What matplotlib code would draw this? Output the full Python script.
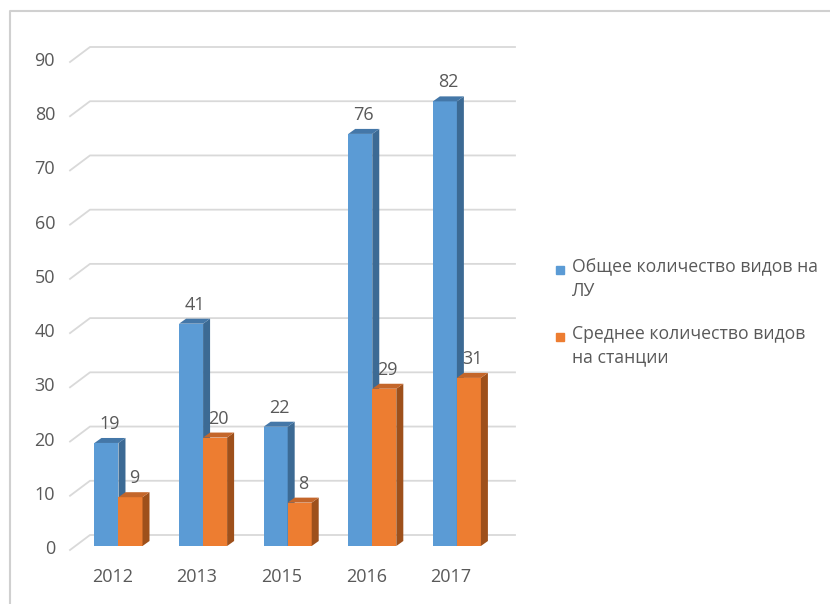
import matplotlib.pyplot as plt
import numpy as np
from matplotlib.patches import Polygon, Rectangle
from matplotlib.lines import Line2D

years = ['2012', '2013', '2015', '2016', '2017']
total_species = [19, 41, 22, 76, 82]
mean_species = [9, 20, 8, 29, 31]
series_names = ['Общее количество видов на\nЛУ', 'Среднее количество видов\nна станции']
yticks = list(range(0, 100, 10))

# front / side / top shades for each series
blue = ('#5B9BD5', '#3C6A94', '#4477A8')
orange = ('#ED7D31', '#9E501B', '#C4662A')
text_col = '#595959'
grid_col = '#D9D9D9'

plt.rcParams['font.family'] = ['Open Sans', 'DejaVu Sans']

W, H = 830, 604
fig = plt.figure(figsize=(W / 100, H / 100), dpi=100)

# plot area in pixels (from top-left)
left, right, top, bottom = 70, 515, 58, 546
ax = fig.add_axes([left / W, 1 - bottom / H, (right - left) / W, (bottom - top) / H])
ax.set_ylim(0, 90)
ax.set_xlim(-0.573, 4.687)
ax.axis('off')

depth = (7, 5)       # bar depth in pixels
wall = (20, 11)      # back wall offset in pixels
bw = 0.284


def to_px(x, y):
    return ax.transData.transform((x, y))


def to_data(px):
    return ax.transData.inverted().transform(px)


# back wall gridlines, left wall slants and value axis labels
x0, x1 = ax.get_xlim()
for v in yticks:
    p = to_px(x0, v)
    a = (p[0], p[1] - 4)
    b = (p[0] + wall[0], p[1] + wall[1])
    c = (to_px(x1, v)[0], p[1] + wall[1])
    pts = to_data(np.array([a, b, c]))
    ax.add_line(Line2D(pts[:, 0], pts[:, 1], color=grid_col, lw=1.3,
                       zorder=1, clip_on=False))
    lx, ly = to_data(p + np.array([-15, -3]))
    ax.text(lx, ly, str(v), ha='right', va='center', fontsize=13, color=text_col)


def bar3d(xc, h, shades):
    xl, xr = xc - bw / 2, xc + bw / 2
    ax.bar(xc, h, width=bw, color=shades[0], zorder=3)
    d = np.array(depth)
    br, tr, tl = to_px(xr, 0), to_px(xr, h), to_px(xl, h)
    side = to_data(np.array([br, tr, tr + d, br + d]))
    topf = to_data(np.array([tl, tr, tr + d, tl + d]))
    ax.add_patch(Polygon(side, closed=True, color=shades[1], zorder=3, lw=0, clip_on=False))
    ax.add_patch(Polygon(topf, closed=True, color=shades[2], zorder=3, lw=0, clip_on=False))
    lx, ly = to_data(tl + (tr - tl) / 2 + np.array([depth[0] / 2, depth[1] + 5]))
    ax.text(lx, ly, str(h), ha='center', va='bottom', fontsize=13,
            color=text_col, zorder=5)


for i, yr in enumerate(years):
    bar3d(i - bw / 2, total_species[i], blue)
    bar3d(i + bw / 2, mean_species[i], orange)
    lx, ly = to_data(to_px(i, 0) + np.array([-6, -22]))
    ax.text(lx, ly, yr, ha='center', va='top', fontsize=13, color=text_col)

# legend
leg_rows = [270, 337]
for name, col, yp in zip(series_names, [blue[0], orange[0]], leg_rows):
    fig.patches.append(Rectangle((556 / W, 1 - (yp + 4) / H), 8 / W, 8 / H,
                                 transform=fig.transFigure, color=col))
    fig.text(572 / W, 1 - (yp - 12) / H, name, ha='left', va='top',
             fontsize=12.7, color=text_col, linespacing=1.4)

# chart frame
fig.add_artist(Line2D([10 / W, 10 / W, 1], [0, 1 - 11 / H, 1 - 11 / H],
                      transform=fig.transFigure, color='#D0D0D0', lw=1.5))

fig.savefig('out.png', dpi=100)
